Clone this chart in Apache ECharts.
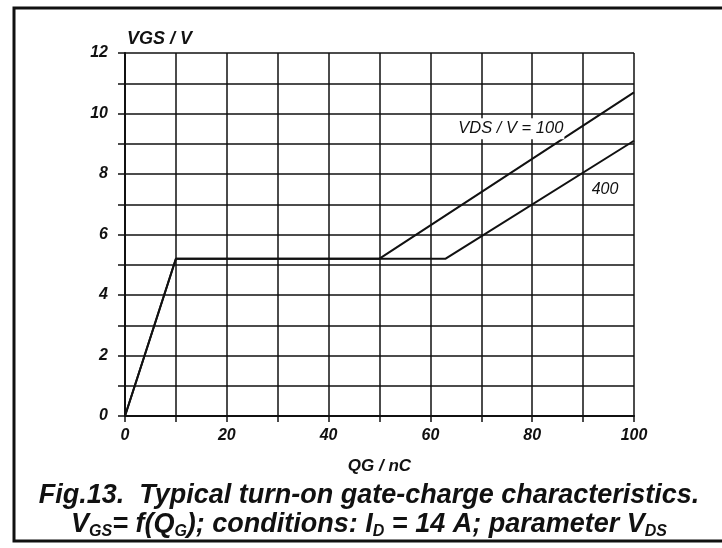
<!DOCTYPE html>
<html>
<head>
<meta charset="utf-8">
<title>Gate charge</title>
<script src="https://cdn.jsdelivr.net/npm/echarts@6/dist/echarts.min.js"></script>
<style>
  html, body { margin: 0; padding: 0; background: #fff; }
  #main { width: 722px; height: 548px; }
</style>
</head>
<body>
<div id="main"></div>
<script>
// gate charge QG / nC against VGS / V, one curve per VDS
const qg100 = [0, 10, 50, 100];
const vgs100 = [0, 5.2, 5.2, 10.7];
const qg400 = [0, 10, 63, 100];
const vgs400 = [0, 5.2, 5.2, 9.1];
const xTicks = [0, 20, 40, 60, 80, 100];
const yTicks = [0, 2, 4, 6, 8, 10, 12];

const font = "Liberation Sans";
const ink = "#111";

function pairs(xs, ys) {
  return xs.map((x, i) => [x, ys[i]]);
}

const chart = echarts.init(document.getElementById("main"));

let option = {
  animation: false,
  backgroundColor: "#fff",
  textStyle: { fontFamily: font, color: ink },
  title: {
    left: 364,
    textAlign: "center",
    top: 476,
    text: "{t|Fig.13.  Typical turn-on gate-charge characteristics.}\n" +
      "{t|V}{s|GS}{t|= f(Q}{s|G}{t|); conditions: I}{s|D}{t| = 14 A; parameter V}{s|DS}",
    textStyle: {
      rich: {
        t: { fontFamily: font, fontStyle: "italic", fontSize: 27, color: ink, lineHeight: 29 },
        s: { fontFamily: font, fontStyle: "italic", fontSize: 16, color: ink, lineHeight: 16, padding: [15, 0, 0, 0] },
      },
    },
  },
  grid: { left: 125, right: 88, top: 53, bottom: 132 },
  xAxis: {
    type: "value",
    min: 0,
    max: 100,
    interval: 10,
    name: "QG / nC",
    nameLocation: "middle",
    nameGap: 42,
    nameTextStyle: { fontFamily: font, fontStyle: "italic", fontWeight: "bold", fontSize: 17, color: ink },
    axisLine: { show: true, lineStyle: { color: ink, width: 2 } },
    axisTick: { show: true, length: 6, lineStyle: { color: ink, width: 1.5 } },
    splitLine: { show: true, lineStyle: { color: ink, width: 1.5 } },
    axisLabel: {
      margin: 12,
      fontFamily: font,
      fontStyle: "italic",
      fontWeight: "bold",
      fontSize: 16,
      color: ink,
      formatter: (v) => (xTicks.includes(v) ? String(v) : ""),
    },
  },
  yAxis: {
    type: "value",
    min: 0,
    max: 12,
    interval: 1,
    name: "VGS / V",
    nameLocation: "end",
    nameGap: 5,
    nameTextStyle: { fontFamily: font, fontStyle: "italic", fontWeight: "bold", fontSize: 18, color: ink, align: "left", padding: [0, 0, 0, 2] },
    axisLine: { show: true, lineStyle: { color: ink, width: 2 } },
    axisTick: { show: true, length: 7, lineStyle: { color: ink, width: 1.5 } },
    splitLine: { show: true, lineStyle: { color: ink, width: 1.5 } },
    axisLabel: {
      margin: 17,
      fontFamily: font,
      fontStyle: "italic",
      fontWeight: "bold",
      fontSize: 16,
      color: ink,
      formatter: (v) => (yTicks.includes(v) ? String(v) : ""),
    },
  },
  series: [
    {
      name: "400",
      type: "line",
      data: pairs(qg400, vgs400),
      symbol: "none",
      lineStyle: { color: ink, width: 2 },
      markPoint: {
        symbol: "rect",
        symbolSize: 1,
        itemStyle: { color: "transparent" },
        label: {
          show: true,
          formatter: "400",
          fontFamily: font,
          fontStyle: "italic",
          fontSize: 16,
          color: ink,
          position: "inside",
        },
        data: [{ coord: [94.3, 7.5] }],
      },
    },
    {
      name: "100",
      type: "line",
      data: pairs(qg100, vgs100),
      symbol: "none",
      lineStyle: { color: ink, width: 2 },
      markPoint: {
        symbol: "rect",
        symbolSize: 1,
        itemStyle: { color: "transparent" },
        label: {
          show: true,
          formatter: "VDS / V = 100",
          fontFamily: font,
          fontStyle: "italic",
          fontSize: 16.5,
          color: ink,
          backgroundColor: "#fff",
          padding: [2, 1],
          position: "inside",
        },
        data: [{ coord: [75.8, 9.5] }],
      },
    },
  ],
  graphic: [
    {
      type: "polyline",
      shape: { points: [[740, 8], [14, 8], [14, 541], [740, 541]] },
      style: { fill: null, stroke: ink, lineWidth: 3 },
      silent: true,
    },
  ],
};

chart.setOption(option);
</script>
</body>
</html>
